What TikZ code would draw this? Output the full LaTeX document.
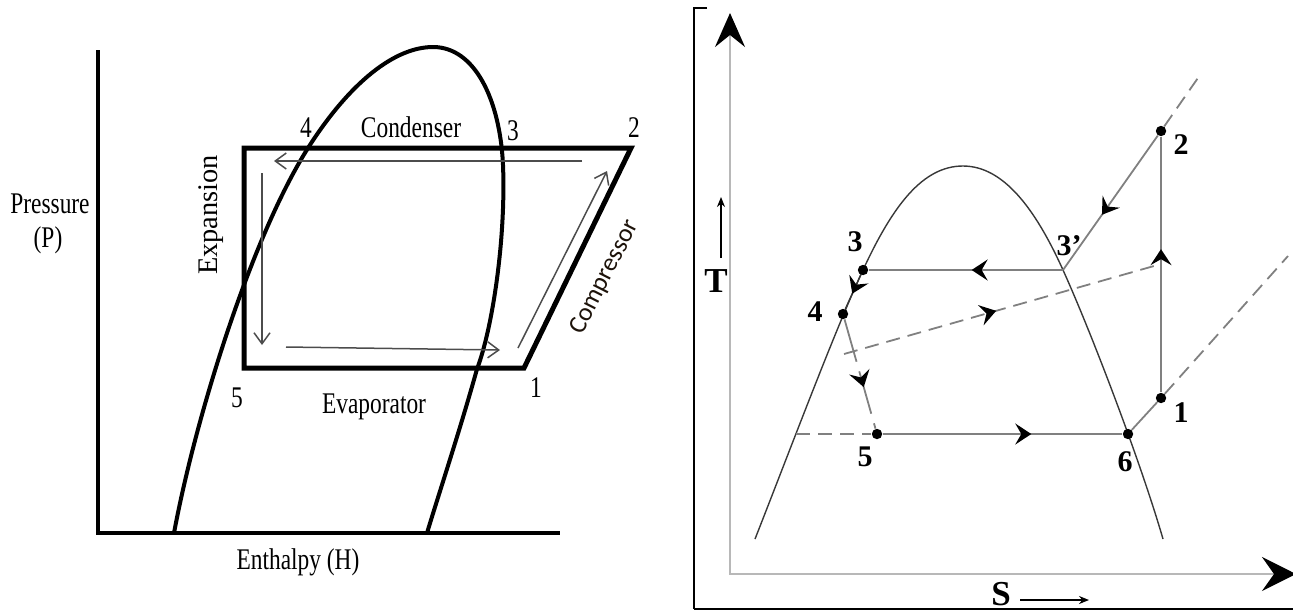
\documentclass[tikz,border=0pt]{standalone}
\usepackage{graphicx}
\usepackage{fontspec}
\setmainfont{Liberation Serif}
\newfontfamily\compfont{Carlito}
\usetikzlibrary{arrows.meta, decorations.markings}

\newcommand{\narrow}[1]{\scalebox{0.78}[1]{#1}}

\tikzset{
  ltext/.style={inner sep=0pt, font=\fontsize{15}{17}\selectfont},
  rtext/.style={inner sep=0pt, font=\bfseries\fontsize{15}{17}\selectfont},
  heavy/.style={line width=2.5pt, line join=miter},
  axisline/.style={line width=2.1pt, line join=miter},
  flow/.style={draw=black!70, line width=0.75pt, -{Straight Barb[length=5.5pt,width=8pt]}},
  dome/.style={draw=black!78, line width=0.7pt},
  gline/.style={draw=black!50, line width=0.9pt},
  dline/.style={gline, dash pattern=on 7pt off 4pt},
  raxis/.style={draw=black!28, line width=1.1pt},
  dot/.style={circle, fill=black, inner sep=0pt, minimum size=5.2pt},
  mid arrow/.style={postaction={decorate}, decoration={markings,
    mark=at position #1 with {\arrow{Stealth[length=8pt,width=10.5pt,inset=3pt,color=black]}}}}
}

\begin{document}
\begin{tikzpicture}[x=0.5pt, y=-0.5pt]
    \useasboundingbox (0,0) rectangle (1293,612);

    % Pressure-enthalpy diagram: axes
    \coordinate (ytop) at (98,50);
    \coordinate (orgn) at (98,533);
    \coordinate (xend) at (560,533);
    \draw[axisline] (ytop) -- (orgn) -- (xend);

    % Saturation dome
    \draw[line width=2pt] (174,533) .. controls (195,420) and (250,240) .. (308,148)
      .. controls (350,82) and (395,47) .. (433,47)
      .. controls (475,47) and (500,100) .. (503,165)
      .. controls (506,240) and (492,330) .. (477,369)
      .. controls (460,430) and (440,490) .. (427,533);

    % Cycle
    \coordinate (h5) at (244,368);
    \coordinate (htl) at (244,148);
    \coordinate (h2) at (631,148);
    \coordinate (h1) at (524,368);
    \draw[heavy] (h5) -- (htl) -- (h2) -- (h1) -- cycle;

    % Flow arrows
    \coordinate (fa1) at (582,161);
    \coordinate (fa2) at (274,161);
    \coordinate (fb1) at (262,173);
    \coordinate (fb2) at (262,345);
    \coordinate (fc1) at (286,347);
    \coordinate (fc2) at (500,350);
    \coordinate (fd1) at (518,348);
    \coordinate (fd2) at (607,171);
    \draw[flow] (fa1) -- (fa2);
    \draw[flow] (fb1) -- (fb2);
    \draw[flow] (fc1) -- (fc2);
    \draw[flow] (fd1) -- (fd2);

    % Labels
    \node[ltext] (n4) at (306,128) {\narrow{4}};
    \node[ltext] (ncond) at (411,127) {\narrow{Condenser}};
    \node[ltext] (n3) at (513,131) {\narrow{3}};
    \node[ltext] (n2) at (634,128) {\narrow{2}};
    \node[ltext] (n5) at (237,398) {\narrow{5}};
    \node[ltext] (nevap) at (374,407) {\narrow{Evaporator}};
    \node[ltext] (n1) at (536,388) {\narrow{1}};
    \node[ltext] (npres) at (50,204) {\narrow{Pressure}};
    \node[ltext] (np) at (48,240) {\narrow{(P)}};
    \node[ltext] (nenth) at (298,562) {\narrow{Enthalpy (H)}};
    \node[inner sep=0pt, font=\fontsize{14.2}{16}\selectfont, rotate=90] (nexp) at (211,215) {Expansion};
    \node[inner sep=0pt, font=\compfont\fontsize{12.8}{15}\selectfont, text=black!85!brown, rotate=63] (ncomp) at (605,277) {Compressor};

    % Temperature-entropy diagram: frame
    \coordinate (fr1) at (707,8);
    \coordinate (fr2) at (694,8);
    \coordinate (fr3) at (694,609);
    \coordinate (fr4) at (1293,609);
    \draw[line width=0.6pt] (fr1) -- (fr2) -- (fr3);
    \draw[line width=1.2pt] (fr3) -- (fr4);

    % Axes
    \coordinate (ttop) at (730,13);
    \coordinate (torg) at (730,574);
    \coordinate (send) at (1296,574);
    \draw[raxis, {Stealth[length=17pt,width=15pt,inset=6pt,color=black]}-{Stealth[length=17pt,width=17pt,inset=6pt,color=black]}] (ttop) -- (torg) -- (send);

    % Dome
    \draw[dome] (755,539) .. controls (790,450) and (835,330) .. (863,270)
      .. controls (893,205) and (923,166) .. (963,166)
      .. controls (1003,166) and (1035,208) .. (1063,270)
      .. controls (1091,332) and (1140,460) .. (1163,539);

    % State points
    \node[dot] (t1) at (1161,398) {};
    \node[dot] (t2) at (1161,131) {};
    \node[dot] (t3) at (863,270) {};
    \node[dot] (t4) at (843,314) {};
    \node[dot] (t5) at (877,434) {};
    \node[dot] (t6) at (1128,434) {};
    \coordinate (t3p) at (1063,270);
    \coordinate (t5l) at (796,434);
    \coordinate (t2x) at (1200,75);
    \coordinate (t1x) at (1288,256);
    \coordinate (d1) at (844,354);
    \coordinate (d2) at (1161,264);

    % Process lines
    \draw[gline, mid arrow=0.56] (t1) -- (t2);
    \draw[gline, mid arrow=0.59] (t2) -- (t3p);
    \draw[gline, mid arrow=0.47] (t3p) -- (t3);
    \draw[dome, mid arrow=0.55] (t3) -- (t4);
    \draw[gline, dash pattern=on 22pt off 5pt, mid arrow=0.62] (t4) -- (t5);
    \draw[gline, mid arrow=0.62] (t5) -- (t6);
    \draw[gline] (t6) -- (t1);
    \draw[dline] (t5l) -- (t5);
    \draw[dline] (t2) -- (t2x);
    \draw[dline] (t1) -- (t1x);
    \draw[dline, mid arrow=0.48] (d1) -- (d2);

    % Labels
    \node[rtext] (l1) at (1181,413) {1};
    \node[rtext] (l2) at (1181,145) {2};
    \node[rtext] (l3) at (855,242) {3};
    \node[rtext] (l3p) at (1069,246) {3'};
    \node[rtext] (l4) at (815,312) {4};
    \node[rtext] (l5) at (865,457) {5};
    \node[rtext] (l6) at (1125,462) {6};
    \node[inner sep=0pt, font=\bfseries\fontsize{17.5}{19}\selectfont] (lt) at (716,281) {T};
    \node[inner sep=0pt, font=\bfseries\fontsize{17.5}{19}\selectfont] (ls) at (1001,594) {S};
    \coordinate (ta1) at (721,258);
    \coordinate (ta2) at (721,197);
    \coordinate (sa1) at (1020,600);
    \coordinate (sa2) at (1089,600);
    \draw[line width=0.8pt, -{Stealth[length=5pt,width=4pt]}] (ta1) -- (ta2);
    \draw[line width=0.8pt, -{Stealth[length=5pt,width=4pt]}] (sa1) -- (sa2);
\end{tikzpicture}
\end{document}
